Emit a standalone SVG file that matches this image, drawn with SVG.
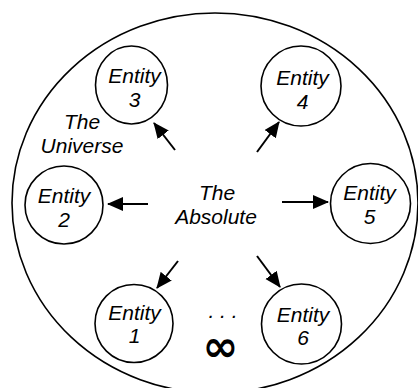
<svg xmlns="http://www.w3.org/2000/svg" width="418" height="388" viewBox="0 0 418 388">
<style>
.bg{fill:#fff}
.ent{fill:#fff;stroke:#000;stroke-width:1.6}
.uni{fill:none;stroke:#000;stroke-width:1.6}
.t{font-family:"Liberation Sans",Arial,sans-serif;font-style:italic;font-size:21px;fill:#000;text-anchor:middle}
.c{stroke:#000;stroke-width:2;fill:none;marker-end:url(#ah)}
</style>
<defs>
<marker id="ah" markerUnits="userSpaceOnUse" markerWidth="17" markerHeight="15" refX="15" refY="7" orient="auto">
<path d="M0,0 L16,7 L0,14 z" fill="#000"/>
</marker>
</defs>
<rect class="bg" x="0" y="0" width="418" height="388"/>
<g id="universe">
<ellipse class="uni" cx="215" cy="203" rx="203" ry="190"/>
<text class="t" x="82" y="129">The</text>
<text class="t" x="82" y="152.5">Universe</text>
</g>
<g id="absolute">
<text class="t" x="217" y="200">The</text>
<text class="t" x="216" y="224">Absolute</text>
</g>
<g id="entity3">
<ellipse class="ent" cx="131.5" cy="85" rx="36" ry="39"/>
<text class="t" x="134.5" y="83">Entity</text>
<text class="t" x="134.5" y="106.5">3</text>
</g>
<g id="entity4">
<circle class="ent" cx="301" cy="86" r="40"/>
<text class="t" x="302.5" y="85">Entity</text>
<text class="t" x="302.5" y="108.5">4</text>
</g>
<g id="entity2">
<circle class="ent" cx="64" cy="205" r="39"/>
<text class="t" x="64" y="203">Entity</text>
<text class="t" x="64" y="227">2</text>
</g>
<g id="entity5">
<circle class="ent" cx="370.5" cy="203.5" r="40"/>
<text class="t" x="369.5" y="200">Entity</text>
<text class="t" x="369.5" y="223.5">5</text>
</g>
<g id="entity1">
<circle class="ent" cx="134" cy="323.5" r="39"/>
<text class="t" x="134.5" y="319.5">Entity</text>
<text class="t" x="134.5" y="343">1</text>
</g>
<g id="entity6">
<circle class="ent" cx="301.5" cy="324" r="40"/>
<text class="t" x="303" y="321.5">Entity</text>
<text class="t" x="303" y="345">6</text>
</g>
<g id="more">
<text class="t" x="223" y="318">. . .</text>
<text x="220.5" y="361" font-family="DejaVu Sans,sans-serif" font-weight="bold" font-size="43" text-anchor="middle">∞</text>
</g>
<g id="connectors">
<line class="c" x1="175" y1="150" x2="154" y2="123"/>
<line class="c" x1="257" y1="152" x2="279" y2="122"/>
<line class="c" x1="148" y1="204" x2="108" y2="204"/>
<line class="c" x1="282" y1="202" x2="328" y2="202"/>
<line class="c" x1="178" y1="261" x2="157" y2="288"/>
<line class="c" x1="257" y1="256" x2="280" y2="287"/>
</g>
</svg>
